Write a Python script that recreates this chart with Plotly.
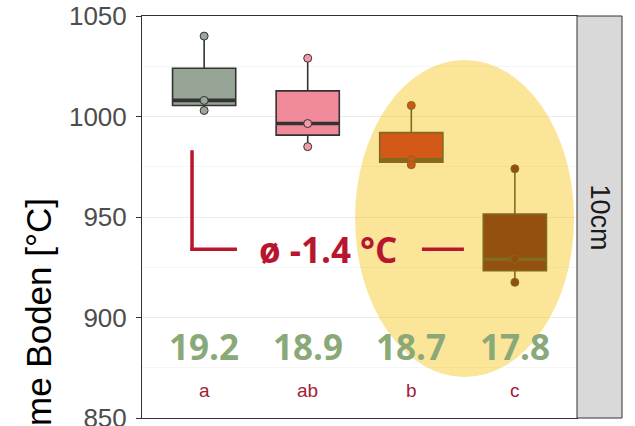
import numpy as np
import plotly.graph_objects as go

# Flame temperature at ground level, 10 cm depth panel, three replicates per treatment
positions = [1, 2, 3, 4]
group_values = [
    [1040.0, 1008.0, 1003.0],
    [1029.0, 996.5, 985.0],
    [1005.5, 978.5, 976.0],
    [974.0, 929.0, 917.5],
]
box_fills = ["#96a596", "#f08a9b", "#be1428", "#530719"]
point_fills = ["#9aa69a", "#f29aaa", "#b41226", "#4e0617"]
mean_labels = ["19.2", "18.9", "18.7", "17.8"]
group_letters = ["a", "ab", "b", "c"]
diff_label = "ø -1.4 °C"
panel_label = "10cm"
y_title = "Temperatur Flamme Boden [°C]"

BOX_W = 0.61
DARK = "#333333"
RED = "#b8152e"
GREEN = "#89a979"

fig = go.Figure()

for pos, vals, fill in zip(positions, group_values, box_fills):
    fig.add_trace(go.Box(
        x=[pos] * len(vals), y=vals,
        width=BOX_W, fillcolor=fill,
        line=dict(color=DARK, width=1.6),
        whiskerwidth=0, boxpoints=False,
        quartilemethod="inclusive",
        hoverinfo="skip", showlegend=False,
    ))

# thicker median bars
for pos, vals in zip(positions, group_values):
    med = float(np.median(vals))
    fig.add_trace(go.Scatter(
        x=[pos - BOX_W / 2, pos + BOX_W / 2], y=[med, med],
        mode="lines", line=dict(color=DARK, width=3.6),
        hoverinfo="skip", showlegend=False,
    ))

# individual replicates
for pos, vals, fill in zip(positions, group_values, point_fills):
    fig.add_trace(go.Scatter(
        x=[pos] * len(vals), y=vals, mode="markers",
        marker=dict(size=8, color=fill, line=dict(color=DARK, width=1)),
        hoverinfo="skip", showlegend=False,
    ))

shapes = [
    # highlight of the two lower groups
    dict(type="circle", xref="x", yref="y", x0=2.457, x1=4.571, y0=870.4, y1=1028.1,
         fillcolor="rgba(245,190,0,0.4)", line=dict(width=0), layer="above"),
    # difference bracket
    dict(type="line", xref="x", yref="y", x0=0.883, x1=0.883, y0=983.2, y1=934.0,
         line=dict(color=RED, width=3.5), layer="above"),
    dict(type="line", xref="x", yref="y", x0=0.865, x1=1.317, y0=934.0, y1=934.0,
         line=dict(color=RED, width=3.5), layer="above"),
    dict(type="line", xref="x", yref="y", x0=3.103, x1=3.508, y0=934.0, y1=934.0,
         line=dict(color=RED, width=3.5), layer="above"),
    # facet strip
    dict(type="rect", xref="paper", yref="paper", x0=1.0, x1=1.0 + 45 / 435, y0=0, y1=1,
         fillcolor="#d9d9d9", line=dict(color=DARK, width=1)),
]

annotations = [
    dict(x=2.196, y=934.0, xref="x", yref="y", text=f"<b>{diff_label}</b>", showarrow=False,
         font=dict(family="Open Sans", size=35, color=RED)),
    dict(x=1.0 + 22.5 / 435, y=0.5, xref="paper", yref="paper", text=panel_label,
         textangle=90, showarrow=False, xanchor="center", yanchor="middle",
         font=dict(family="Liberation Sans", size=27, color="#1a1a1a")),
    dict(x=-0.239, y=(418 - 196) / 402, xref="paper", yref="paper", text=y_title,
         textangle=-90, showarrow=False, xanchor="center", yanchor="top",
         font=dict(family="Liberation Sans", size=35, color="#000000")),
]
for pos, lab in zip(positions, mean_labels):
    annotations.append(dict(x=pos, y=885.5, xref="x", yref="y", text=f"<b>{lab}</b>",
                            showarrow=False,
                            font=dict(family="Open Sans", size=35, color=GREEN)))
for pos, lab in zip(positions, group_letters):
    annotations.append(dict(x=pos, y=863.5, xref="x", yref="y", text=lab, showarrow=False,
                            font=dict(family="Liberation Sans", size=19, color="#a01e37")))

fig.update_layout(
    width=635, height=426,
    margin=dict(l=142, r=58, t=16, b=8, autoexpand=False),
    paper_bgcolor="white", plot_bgcolor="white",
    shapes=shapes, annotations=annotations,
    showlegend=False,
)
fig.update_xaxes(
    range=[0.4, 4.6], showgrid=False, zeroline=False, showticklabels=False,
    showline=True, mirror=True, linecolor=DARK, linewidth=1, ticks="",
    automargin=False,
)
fig.update_yaxes(
    range=[850, 1050], tick0=850, dtick=50, zeroline=False,
    showgrid=True, gridcolor="#ebebeb", gridwidth=1,
    minor=dict(dtick=25, showgrid=True, gridcolor="#f5f5f5", gridwidth=1),
    showline=True, mirror=True, linecolor=DARK, linewidth=1,
    ticks="outside", ticklen=5, tickcolor=DARK, tickwidth=1,
    ticklabelstandoff=4, ticklabeloverflow="allow", automargin=False,
    tickfont=dict(family="Liberation Sans", size=26, color="#4d4d4d"),
)

fig.write_html("out.html")
